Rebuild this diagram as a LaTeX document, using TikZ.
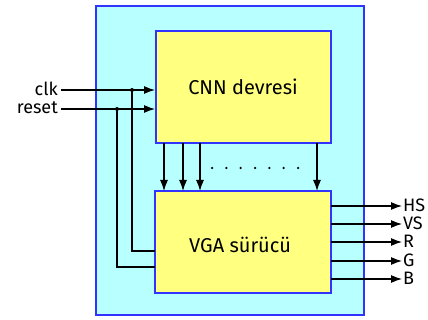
\documentclass[tikz,border=0pt]{standalone}
\usepackage{fontspec}
\setmainfont{Fira Sans}
\usetikzlibrary{arrows.meta}
\definecolor{outerfill}{HTML}{B8FFFF}
\definecolor{boxblue}{HTML}{3333FF}
\definecolor{boxfill}{HTML}{FFFF80}
\begin{document}
\begin{tikzpicture}[x=1pt,y=-1pt,
  outerbox/.style={draw=boxblue,fill=outerfill,line width=1.6pt},
  block/.style={draw=boxblue,fill=boxfill,line width=1.6pt},
  wire/.style={draw=black,line width=1.2pt},
  arr/.style={wire,-{Latex[length=11pt,width=8pt]}},
  lbl/.style={font=\fontsize{20}{20}\selectfont,inner sep=1pt},
  side/.style={font=\fontsize{18}{18}\selectfont,inner sep=0pt,text height=12pt,text depth=1pt},
  dot/.style={circle,fill=black,inner sep=0pt,minimum size=4pt}]
\useasboundingbox (0,0) rectangle (428,320);
\path[outerbox] (96,6) rectangle (364,315);
\path[block] (156,31) rectangle (331,143);
\path[block] (155,191) rectangle (331,293);
\node[lbl] (cnn) at (243,87) {CNN devresi};
\node[lbl] (vga) at (240,245) {VGA sürücü};
% inputs
\node[side,anchor=east] (clk) at (58,90) {clk};
\node[side,anchor=east] (reset) at (58,108) {reset};
\coordinate (clkin) at (155,90);
\coordinate (rstin) at (155,109);
\coordinate (clkd) at (132,90);
\coordinate (rstd) at (117,109);
\draw[arr] (61,90) -- (clkin);
\draw[arr] (61,109) -- (rstin);
\draw[wire] (clkd) -- (132,251) -- (155,251);
\draw[wire] (rstd) -- (117,267) -- (155,267);
\node[dot] at (clkd) {};
\node[dot] at (rstd) {};
% buses
\foreach \x in {164,183,200,317}{
  \draw[arr] (\x,143) -- (\x,191);
}
\foreach \x in {212,226.3,240.6,255,269.3,283.6,298}{
  \node[circle,fill=black,inner sep=0pt,minimum size=2.5pt] at (\x,168) {};
}
% outputs
\foreach \y/\t in {206/HS,224/VS,242/R,261/G,279/B}{
  \draw[arr] (331,\y) -- (402,\y);
  \node[side,anchor=west] at (403,\y) {\t};
}
\end{tikzpicture}
\end{document}
